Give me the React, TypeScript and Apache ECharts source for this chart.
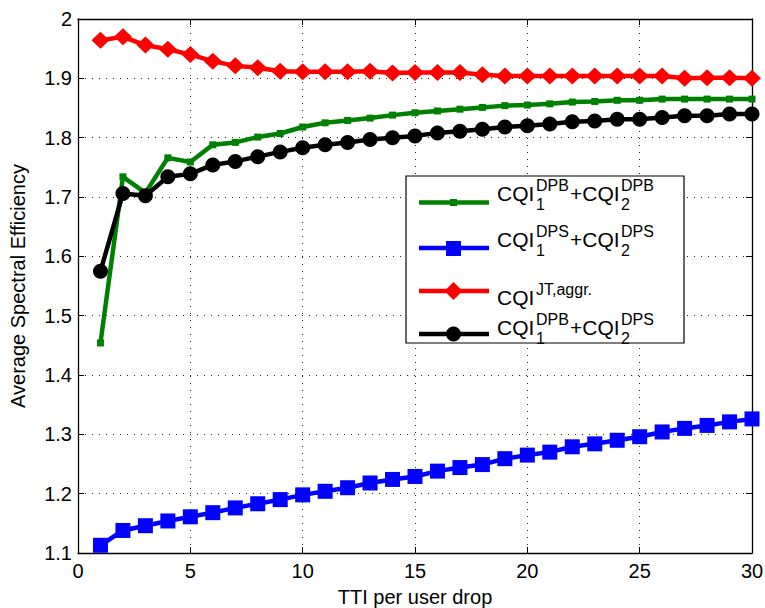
import { useEffect, useRef } from 'react';
import * as echarts from 'echarts';

const ttis = [1, 2, 3, 4, 5, 6, 7, 8, 9, 10, 11, 12, 13, 14, 15, 16, 17, 18, 19, 20, 21, 22, 23, 24, 25, 26, 27, 28, 29, 30];
const dpbDpb = [1.454, 1.734, 1.707, 1.766, 1.759, 1.788, 1.792, 1.801, 1.807, 1.818, 1.825, 1.829, 1.833, 1.838, 1.842, 1.845, 1.848, 1.851, 1.854, 1.855, 1.857, 1.860, 1.861, 1.863, 1.863, 1.865, 1.865, 1.865, 1.865, 1.865];
const dpsDps = [1.113, 1.138, 1.146, 1.154, 1.161, 1.168, 1.176, 1.183, 1.190, 1.198, 1.204, 1.210, 1.218, 1.224, 1.229, 1.238, 1.244, 1.249, 1.259, 1.265, 1.270, 1.279, 1.284, 1.290, 1.296, 1.304, 1.310, 1.315, 1.321, 1.326];
const jtAggr = [1.964, 1.970, 1.956, 1.949, 1.940, 1.929, 1.921, 1.918, 1.912, 1.911, 1.911, 1.911, 1.912, 1.909, 1.910, 1.910, 1.910, 1.906, 1.904, 1.904, 1.904, 1.904, 1.904, 1.904, 1.904, 1.904, 1.900, 1.901, 1.901, 1.900];
const dpbDps = [1.575, 1.706, 1.702, 1.734, 1.739, 1.754, 1.760, 1.768, 1.776, 1.783, 1.788, 1.792, 1.797, 1.800, 1.803, 1.808, 1.811, 1.814, 1.818, 1.820, 1.823, 1.827, 1.828, 1.831, 1.831, 1.834, 1.837, 1.837, 1.840, 1.840];

const FONT = '"Liberation Sans", Arial, Helvetica, sans-serif';

export default function App() {
  const ref = useRef<HTMLDivElement>(null);

  useEffect(() => {
    const chart = echarts.init(ref.current!, null, { renderer: 'svg' });
    const pairs = (ys: number[]) => ttis.map((x, i) => [x, ys[i]]);

    const txt = (text: string, x: number, y: number, size: number) => ({
      type: 'text',
      x,
      y,
      z: 110,
      style: { text, fontSize: size, fontFamily: FONT, fill: '#000', verticalAlign: 'middle', align: 'left' },
    });
    const MAIN = 21;
    const SCR = 16;
    const entryTexts = (cy: number, sup1: string, sub1: string | null, sup2?: string, sub2?: string) => {
      const arr: any[] = [txt('CQI', 497, cy, MAIN), txt(sup1, 536, cy - 8, SCR)];
      if (sub1) arr.push(txt(sub1, 536, cy + 11, SCR));
      if (sup2) {
        arr.push(txt('+CQI', 570, cy, MAIN));
        arr.push(txt(sup2, 621, cy - 8, SCR));
        if (sub2) arr.push(txt(sub2, 621, cy + 11, SCR));
      }
      return arr;
    };
    const lineSeg = (y: number, color: string) => ({
      type: 'line',
      z: 105,
      shape: { x1: 419, y1: y, x2: 489, y2: y },
      style: { stroke: color, lineWidth: 4.5 },
    });

    const legendEls: any[] = [
      {
        type: 'rect',
        z: 100,
        shape: { x: 406, y: 176, width: 278, height: 167 },
        style: { fill: '#fff', stroke: '#000', lineWidth: 1.2 },
      },
      lineSeg(202.5, '#008000'),
      { type: 'rect', z: 106, shape: { x: 450, y: 199, width: 7, height: 7 }, style: { fill: '#008000' } },
      ...entryTexts(193, 'DPB', '1', 'DPB', '2'),
      lineSeg(248, '#0000ff'),
      { type: 'rect', z: 106, shape: { x: 446, y: 241, width: 15, height: 15 }, style: { fill: '#0000ff' } },
      ...entryTexts(239, 'DPS', '1', 'DPS', '2'),
      lineSeg(291, '#ff0000'),
      { type: 'polygon', z: 106, shape: { points: [[453.5, 282], [462.5, 291], [453.5, 300], [444.5, 291]] }, style: { fill: '#ff0000' } },
      ...entryTexts(297, 'JT,aggr.', null),
      lineSeg(334, '#000'),
      { type: 'circle', z: 106, shape: { cx: 453.5, cy: 334, r: 7.5 }, style: { fill: '#000' } },
      ...entryTexts(327, 'DPB', '1', 'DPS', '2'),
    ];

    const tickStyle = { show: true, inside: true, length: 6, lineStyle: { color: '#000', width: 1 } };
    const axisLine = { show: true, onZero: false, lineStyle: { color: '#000', width: 1.3 } };
    const splitLine = { show: true, lineStyle: { color: '#000', width: 1, type: [1, 6] as any, opacity: 0.85 } };
    const labelStyle = { color: '#000', fontSize: 20, fontFamily: FONT };

    const series: any[] = [
      { name: 'dpbDpb', data: pairs(dpbDpb), color: '#008000', symbol: 'rect', symbolSize: 7 },
      { name: 'dpsDps', data: pairs(dpsDps), color: '#0000ff', symbol: 'rect', symbolSize: 15 },
      { name: 'jtAggr', data: pairs(jtAggr), color: '#ff0000', symbol: 'diamond', symbolSize: [18, 17] },
      { name: 'dpbDps', data: pairs(dpbDps), color: '#000000', symbol: 'circle', symbolSize: 15 },
    ].map((s) => ({
      ...s,
      type: 'line',
      xAxisIndex: 0,
      yAxisIndex: 0,
      clip: false,
      showAllSymbol: true,
      lineStyle: { width: 4.5, color: s.color },
      itemStyle: { color: s.color, borderWidth: 0 },
      emphasis: { disabled: true },
    }));

    chart.setOption({
      animation: false,
      backgroundColor: '#fff',
      grid: { left: 78, right: 13, top: 19, bottom: 55, containLabel: false, outerBoundsMode: 'none' },
      xAxis: [
        {
          type: 'value',
          min: 0,
          max: 30,
          interval: 5,
          position: 'bottom',
          name: 'TTI per user drop',
          nameLocation: 'middle',
          nameGap: 34,
          nameTextStyle: { ...labelStyle },
          axisLine,
          axisTick: tickStyle,
          axisLabel: { ...labelStyle, margin: 8 },
          splitLine,
        },
        {
          type: 'value',
          min: 0,
          max: 30,
          interval: 5,
          position: 'top',
          axisLine,
          axisTick: tickStyle,
          axisLabel: { show: false },
          splitLine: { show: false },
        },
      ],
      yAxis: [
        {
          type: 'value',
          min: 1.1,
          max: 2,
          interval: 0.1,
          position: 'left',
          name: 'Average Spectral Efficiency',
          nameLocation: 'middle',
          nameGap: 50,
          nameTextStyle: { ...labelStyle },
          axisLine,
          axisTick: tickStyle,
          axisLabel: {
            ...labelStyle,
            margin: 6,
            formatter: (v: number) => String(parseFloat(v.toFixed(1))),
          },
          splitLine,
        },
        {
          type: 'value',
          min: 1.1,
          max: 2,
          interval: 0.1,
          position: 'right',
          axisLine,
          axisTick: tickStyle,
          axisLabel: { show: false },
          splitLine: { show: false },
        },
      ],
      series,
      graphic: legendEls,
    });

    return () => chart.dispose();
  }, []);

  return <div ref={ref} style={{ position: 'fixed', left: 0, top: 0, width: 765, height: 608 }} />;
}
